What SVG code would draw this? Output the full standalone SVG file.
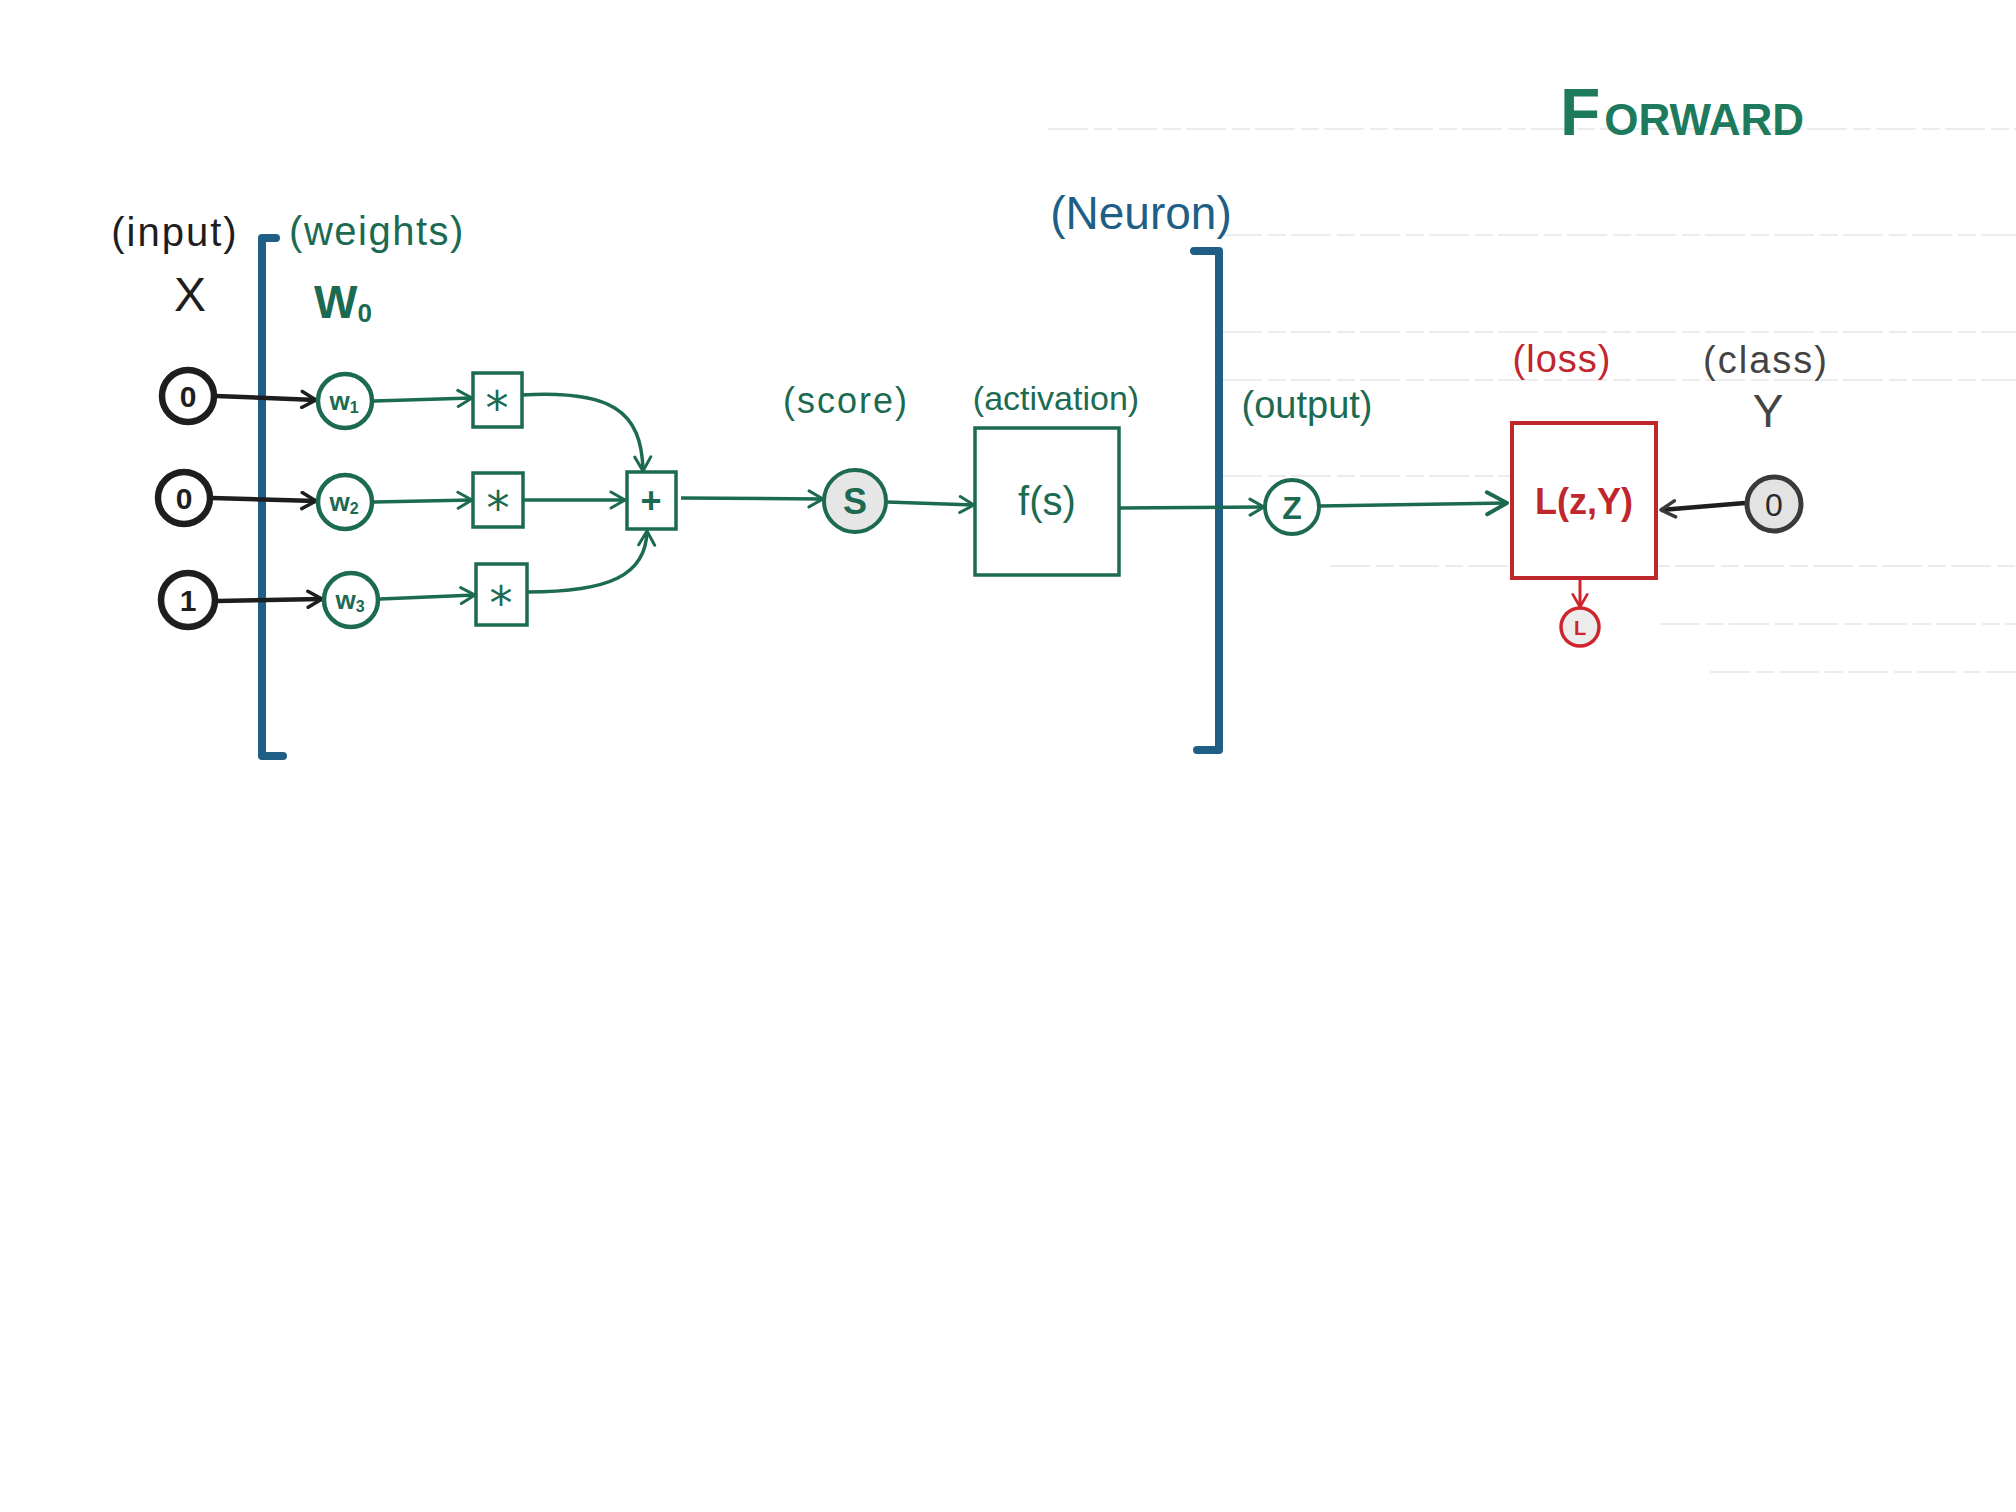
<svg xmlns="http://www.w3.org/2000/svg" width="2016" height="1512" viewBox="0 0 2016 1512">
  <defs>
    <style>
      .hand { font-family: "Liberation Sans", Arial, sans-serif; }
      .lbl { font-family: "Liberation Sans", Arial, sans-serif; fill: #1c6a52; }
      .star { font-family: "DejaVu Sans", "Liberation Sans", sans-serif; fill: #1c6a52; font-size: 46px; }
      .inCirc { fill: #ffffff; stroke: #1e1e1e; stroke-width: 6.5; }
      .wCirc { fill: #ffffff; stroke: #1c6a52; stroke-width: 4.5; }
      .box { fill: #ffffff; stroke: #1c6a52; stroke-width: 3.5; }
      .conn { fill: none; stroke: #1c6a52; stroke-width: 3.5; }
      .connK { fill: none; stroke: #1e1e1e; stroke-width: 4.5; }
      .bracket { fill: none; stroke: #1f5f86; stroke-width: 8; stroke-linecap: round; stroke-linejoin: round; }
      .rule { stroke: #e6e6e6; stroke-width: 1.5; stroke-dasharray: 40 6 18 5; }
    </style>
    <marker id="ag" viewBox="0 0 20 20" refX="18" refY="10" markerWidth="20" markerHeight="20" markerUnits="userSpaceOnUse" orient="auto">
      <polyline points="4,2 18,10 4,18" fill="none" stroke="#1c6a52" stroke-width="3" stroke-linecap="round" stroke-linejoin="round"/>
    </marker>
    <marker id="agL" viewBox="0 0 28 28" refX="25" refY="14" markerWidth="28" markerHeight="28" markerUnits="userSpaceOnUse" orient="auto">
      <polyline points="5,3 25,14 5,25" fill="none" stroke="#1c6a52" stroke-width="4" stroke-linecap="round" stroke-linejoin="round"/>
    </marker>
    <marker id="ak" viewBox="0 0 20 20" refX="18" refY="10" markerWidth="20" markerHeight="20" markerUnits="userSpaceOnUse" orient="auto">
      <polyline points="4,2 18,10 4,18" fill="none" stroke="#1e1e1e" stroke-width="3.5" stroke-linecap="round" stroke-linejoin="round"/>
    </marker>
    <marker id="agr" viewBox="0 0 20 20" refX="18" refY="10" markerWidth="20" markerHeight="20" markerUnits="userSpaceOnUse" orient="auto">
      <polyline points="4,2 18,10 4,18" fill="none" stroke="#3a3a3a" stroke-width="3.5" stroke-linecap="round" stroke-linejoin="round"/>
    </marker>
    <marker id="ar" viewBox="0 0 20 20" refX="18" refY="10" markerWidth="18" markerHeight="18" markerUnits="userSpaceOnUse" orient="auto">
      <polyline points="4,2 18,10 4,18" fill="none" stroke="#d0242c" stroke-width="3" stroke-linecap="round" stroke-linejoin="round"/>
    </marker>
  </defs>

  <rect x="0" y="0" width="2016" height="1512" fill="#ffffff"/>

  <!-- faint notebook rules -->
  <g id="rules">
    <line class="rule" x1="1048" y1="129" x2="2016" y2="129"/>
    <line class="rule" x1="1222" y1="235" x2="2016" y2="235"/>
    <line class="rule" x1="1222" y1="332" x2="2016" y2="332"/>
    <line class="rule" x1="1222" y1="380" x2="2016" y2="380"/>
    <line class="rule" x1="1222" y1="476" x2="1510" y2="476"/>
    <line class="rule" x1="1330" y1="566" x2="2016" y2="566"/>
    <line class="rule" x1="1660" y1="624" x2="2016" y2="624"/>
    <line class="rule" x1="1710" y1="672" x2="2016" y2="672"/>
  </g>

  <!-- title -->
  <g id="title">
    <text class="hand" x="1560" y="135" fill="#1e7a5c" font-weight="bold"><tspan font-size="66">F</tspan><tspan font-size="44" dx="4">ORWARD</tspan></text>
  </g>

  <!-- brackets -->
  <g id="input-bracket">
    <polyline class="bracket" points="276,238 262,238 262,756 283,756"/>
  </g>
  <g id="neuron-bracket">
    <polyline class="bracket" points="1194,251 1219,251 1219,750 1197,750"/>
    <text class="hand" x="1141" y="229" font-size="46" fill="#1f5f86" text-anchor="middle">(Neuron)</text>
  </g>

  <!-- labels -->
  <g id="labels">
    <text class="hand" x="175" y="246" font-size="40" fill="#1e1e1e" text-anchor="middle" letter-spacing="2">(input)</text>
    <text class="hand" x="190" y="311" font-size="48" fill="#1e1e1e" text-anchor="middle">X</text>
    <text class="lbl" x="377" y="245" font-size="40" text-anchor="middle" letter-spacing="1.5">(weights)</text>
    <text class="lbl" x="343" y="318" font-size="46" font-weight="bold" text-anchor="middle">W<tspan font-size="26" dy="4">0</tspan></text>
    <text class="lbl" x="846" y="413" font-size="36" text-anchor="middle" letter-spacing="2">(score)</text>
    <text class="lbl" x="1056" y="410" font-size="34" text-anchor="middle">(activation)</text>
    <text class="lbl" x="1307" y="418" font-size="38" text-anchor="middle">(output)</text>
    <text class="hand" x="1562" y="372" font-size="38" fill="#c0272d" text-anchor="middle" letter-spacing="1">(loss)</text>
    <text class="hand" x="1766" y="373" font-size="38" fill="#444444" text-anchor="middle" letter-spacing="2">(class)</text>
    <text class="hand" x="1768" y="427" font-size="46" fill="#444444" text-anchor="middle">Y</text>
  </g>

  <!-- connectors -->
  <g id="connectors">
    <line class="connK" x1="216" y1="396" x2="316" y2="400" marker-end="url(#ak)"/>
    <line class="connK" x1="212" y1="498" x2="316" y2="501" marker-end="url(#ak)"/>
    <line class="connK" x1="217" y1="601" x2="322" y2="599" marker-end="url(#ak)"/>
    <line class="conn" x1="374" y1="401" x2="472" y2="398" marker-end="url(#ag)"/>
    <line class="conn" x1="374" y1="502" x2="472" y2="500" marker-end="url(#ag)"/>
    <line class="conn" x1="380" y1="599" x2="475" y2="595" marker-end="url(#ag)"/>
    <path class="conn" d="M522,395 C610,390 642,410 643,471" marker-end="url(#ag)"/>
    <line class="conn" x1="523" y1="500" x2="625" y2="500" marker-end="url(#ag)"/>
    <path class="conn" d="M527,592 C610,592 646,575 647,531" marker-end="url(#ag)"/>
    <line class="conn" x1="681" y1="498" x2="823" y2="499" marker-end="url(#ag)"/>
    <line class="conn" x1="887" y1="502" x2="974" y2="505" marker-end="url(#ag)"/>
    <line class="conn" x1="1120" y1="508" x2="1264" y2="507" marker-end="url(#ag)"/>
    <line class="conn" x1="1320" y1="506" x2="1507" y2="503" marker-end="url(#agL)"/>
    <line class="connK" x1="1745" y1="503" x2="1661" y2="510" stroke="#3a3a3a" marker-end="url(#agr)"/>
    <line x1="1580" y1="580" x2="1580" y2="607" stroke="#d0242c" stroke-width="3" marker-end="url(#ar)"/>
  </g>

  <!-- input nodes -->
  <g id="x1"><circle class="inCirc" cx="188" cy="396" r="26"/><text class="hand" x="188" y="407" font-size="30" font-weight="bold" fill="#1e1e1e" text-anchor="middle">0</text></g>
  <g id="x2"><circle class="inCirc" cx="184" cy="498" r="26"/><text class="hand" x="184" y="509" font-size="30" font-weight="bold" fill="#1e1e1e" text-anchor="middle">0</text></g>
  <g id="x3"><circle class="inCirc" cx="188" cy="600" r="27"/><text class="hand" x="188" y="611" font-size="30" font-weight="bold" fill="#1e1e1e" text-anchor="middle">1</text></g>

  <!-- weight nodes -->
  <g id="w1"><circle class="wCirc" cx="345" cy="401" r="27"/><text class="lbl" x="344" y="410" font-size="26" font-weight="bold" text-anchor="middle">w<tspan font-size="16" dy="3">1</tspan></text></g>
  <g id="w2"><circle class="wCirc" cx="345" cy="502" r="27"/><text class="lbl" x="344" y="511" font-size="26" font-weight="bold" text-anchor="middle">w<tspan font-size="16" dy="3">2</tspan></text></g>
  <g id="w3"><circle class="wCirc" cx="351" cy="600" r="27"/><text class="lbl" x="350" y="609" font-size="26" font-weight="bold" text-anchor="middle">w<tspan font-size="16" dy="3">3</tspan></text></g>

  <!-- multiply nodes -->
  <g id="mul1"><rect class="box" x="473" y="373" width="49" height="54"/><text class="star" x="497" y="424" text-anchor="middle">*</text></g>
  <g id="mul2"><rect class="box" x="473" y="473" width="50" height="54"/><text class="star" x="498" y="524" text-anchor="middle">*</text></g>
  <g id="mul3"><rect class="box" x="476" y="564" width="51" height="61"/><text class="star" x="501" y="619" text-anchor="middle">*</text></g>

  <!-- sum node -->
  <g id="sum"><rect class="box" x="627" y="472" width="49" height="57"/><text class="lbl" x="651" y="513" font-size="36" font-weight="bold" text-anchor="middle">+</text></g>

  <!-- score -->
  <g id="score"><circle cx="855" cy="501" r="31" fill="#e6e6e6" stroke="#1c6a52" stroke-width="4"/><text class="lbl" x="855" y="514" font-size="36" font-weight="bold" text-anchor="middle">S</text></g>

  <!-- activation -->
  <g id="activation"><rect class="box" x="975" y="428" width="144" height="147"/><text class="lbl" x="1047" y="515" font-size="40" text-anchor="middle">f(s)</text></g>

  <!-- output -->
  <g id="output"><circle cx="1292" cy="507" r="27" fill="#ffffff" stroke="#1c6a52" stroke-width="4"/><text class="lbl" x="1292" y="519" font-size="32" font-weight="bold" text-anchor="middle">Z</text></g>

  <!-- loss -->
  <g id="loss"><rect x="1512" y="423" width="144" height="155" fill="#ffffff" stroke="#c0272d" stroke-width="4"/><text class="hand" x="1584" y="514" font-size="36" font-weight="bold" fill="#c0272d" text-anchor="middle">L(z,Y)</text></g>

  <!-- class -->
  <g id="class"><circle cx="1774" cy="504" r="27" fill="#e3e3e3" stroke="#3a3a3a" stroke-width="5"/><text class="hand" x="1774" y="516" font-size="32" fill="#2a2a2a" text-anchor="middle">0</text></g>

  <!-- loss value -->
  <g id="lossval"><circle cx="1580" cy="627" r="19" fill="#ececec" stroke="#d0242c" stroke-width="3.5"/><text class="hand" x="1580" y="635" font-size="20" font-weight="bold" fill="#d0242c" text-anchor="middle">L</text></g>
</svg>
